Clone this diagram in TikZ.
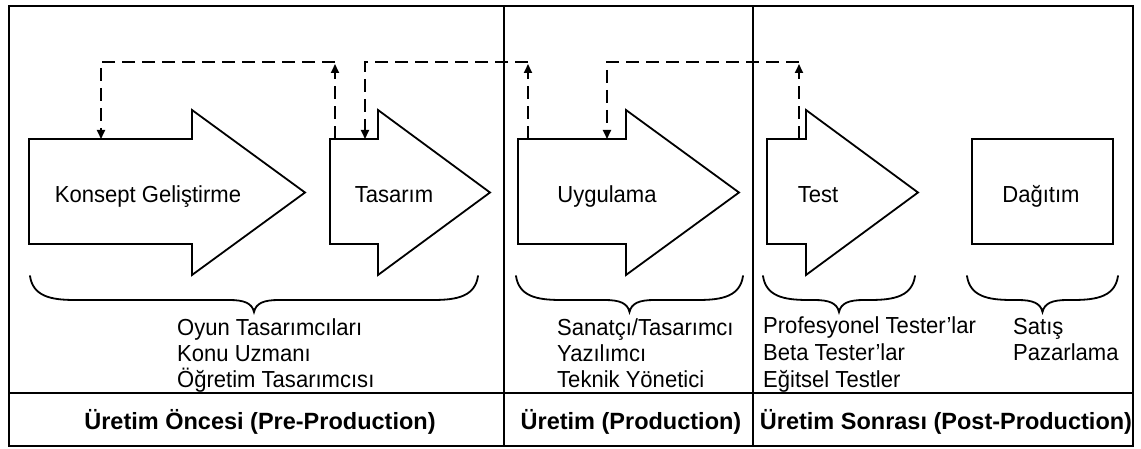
\documentclass[tikz,border=0pt]{standalone}
\usepackage{fontspec}
\setmainfont{Liberation Sans}
\newfontfamily\labelfont[FakeStretch=0.95]{Liberation Sans}
\usetikzlibrary{arrows.meta}
\begin{document}
\begin{tikzpicture}[x=1pt,y=-1pt,
  outline/.style={line width=1.8pt, line join=miter},
  rule/.style={line width=1.8pt},
  dashconn/.style={line width=1.8pt, dash pattern=on 13pt off 7pt,
    -{Triangle[length=9pt,width=8pt]}},
  bracket/.style={line width=1.8pt, line cap=round},
  steplabel/.style={font=\labelfont\fontsize{23.2}{27}\selectfont, inner sep=0pt, anchor=base},
  role/.style={font=\labelfont\fontsize{23.2}{27}\selectfont, inner sep=0pt, anchor=base west},
  phaselabel/.style={font=\fontsize{23.5}{28}\selectfont\bfseries, inner sep=0pt, anchor=base}]
\useasboundingbox (0,0) rectangle (1141,449);

% frame and phase columns
\draw[rule] (9,6) rectangle (1133,446);
\draw[rule] (504,6) -- (504,446);
\draw[rule] (753,6) -- (753,446);
\draw[rule] (9,393) -- (1133,393);

% process arrows
\draw[outline] (29,139) -- (192,139) -- (192,110) -- (305,192.5) -- (192,275) -- (192,244) -- (29,244) -- cycle;
\draw[outline] (330,139) -- (378,139) -- (378,110) -- (490,192.5) -- (378,275) -- (378,244) -- (330,244) -- cycle;
\draw[outline] (518,139) -- (626,139) -- (626,110) -- (739,192.5) -- (626,275) -- (626,244) -- (518,244) -- cycle;
\draw[outline] (767,139) -- (806,139) -- (806,110) -- (918,192.5) -- (806,275) -- (806,244) -- (767,244) -- cycle;
\draw[outline] (972,139) rectangle (1113,244);

% step labels
\node[steplabel] (kon) at (148,203) {Konsept Geliştirme};
\node[steplabel] (tas) at (394,203) {Tasarım};
\node[steplabel] (uyg) at (607,203) {Uygulama};
\node[steplabel] (tst) at (818,203) {Test};
\node[steplabel] (dag) at (1041,203) {Dağıtım};

% feedback loops
\coordinate (kon-in)  at (101,139);
\coordinate (tas-out) at (335,139);
\coordinate (fb1)     at (335,62);
\coordinate (tas-in)  at (365,139);
\coordinate (uyg-out) at (528,139);
\coordinate (fb2)     at (528,62);
\coordinate (uyg-in)  at (607,139);
\coordinate (tst-out) at (799,139);
\coordinate (fb3)     at (799,62);

\draw[dashconn, shorten >=2pt] (tas-out) -- (fb1);
\draw[dashconn] (fb1) -| (kon-in);
\draw[dashconn, shorten >=2pt] (uyg-out) -- (fb2);
\draw[dashconn] (fb2) -| (tas-in);
\draw[dashconn, shorten >=2pt] (tst-out) -- (fb3);
\draw[dashconn] (fb3) -| (uyg-in);

% braces over the role lists
\foreach \l/\r in {30/478, 516/743, 763/915, 967/1118} {
  \pgfmathsetmacro\m{(\l+\r)/2}
  \draw[bracket] (\l,276) .. controls (\l+3,296) and (\l+20,300) .. (\l+45,300)
    -- (\m-25,300) .. controls (\m-10,300) and (\m-2,303) .. (\m,312)
    .. controls (\m+2,303) and (\m+10,300) .. (\m+25,300)
    -- (\r-45,300) .. controls (\r-20,300) and (\r-3,296) .. (\r,276);
}

% roles
\node[role] (r11) at (177,335) {Oyun Tasarımcıları};
\node[role] (r12) at (177,361) {Konu Uzmanı};
\node[role] (r13) at (177,387) {Öğretim Tasarımcısı};
\node[role] (r21) at (557,335) {Sanatçı/Tasarımcı};
\node[role] (r22) at (557,361) {Yazılımcı};
\node[role] (r23) at (557,387) {Teknik Yönetici};
\node[role] (r31) at (763,333) {Profesyonel Tester’lar};
\node[role] (r32) at (763,360) {Beta Tester’lar};
\node[role] (r33) at (763,387) {Eğitsel Testler};
\node[role] (r41) at (1013,334) {Satış};
\node[role] (r42) at (1013,360) {Pazarlama};

% phase names
\node[phaselabel] (p1) at (260,429) {Üretim Öncesi (Pre-Production)};
\node[phaselabel] (p2) at (631,429) {Üretim (Production)};
\node[phaselabel] (p3) at (946,429) {Üretim Sonrası (Post-Production)};
\end{tikzpicture}
\end{document}
